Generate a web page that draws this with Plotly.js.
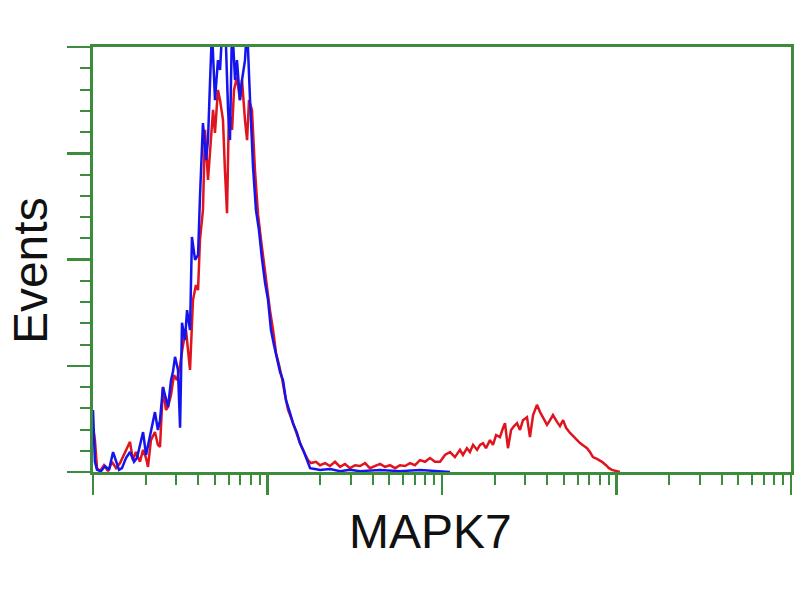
<!DOCTYPE html>
<html>
<head>
<meta charset="utf-8">
<script src="https://cdn.plot.ly/plotly-3.0.1.min.js"></script>
<style>html,body{margin:0;padding:0;background:#fff;}#chart{width:800px;height:600px;}</style>
</head>
<body>
<div id="chart"></div>
<script>
// log10 fluorescence intensity (decades) and event counts (relative, axis top = 100)
var controlLog = [0.000,0.011,0.023,0.046,0.069,0.092,0.115,0.132,0.149,0.166,0.189,0.212,0.235,0.252,0.269,0.287,0.304,0.321,0.338,0.355,0.372,0.384,0.401,0.418,0.430,0.447,0.458,0.470,0.487,0.499,0.510,0.527,0.539,0.556,0.567,0.585,0.602,0.613,0.630,0.648,0.659,0.671,0.682,0.699,0.716,0.728,0.739,0.756,0.774,0.785,0.797,0.814,0.825,0.842,0.854,0.871,0.883,0.900,0.917,0.934,0.951,0.969,0.986,1.003,1.020,1.037,1.054,1.072,1.089,1.106,1.129,1.146,1.169,1.186,1.209,1.226,1.244,1.272,1.301,1.358,1.416,1.473,1.530,1.645,1.759,1.874,1.989,2.046];
var controlCounts = [14.6,2.4,0.5,0.2,1.4,0.5,4.7,2.4,0.5,0.9,3.3,4.7,2.4,3.3,6.4,9.4,4.0,7.5,11.1,14.1,9.9,12.2,20.0,16.9,15.3,21.6,23.5,27.1,24.0,10.4,35.1,31.1,38.1,33.4,55.3,49.9,51.1,64.7,82.1,73.4,78.1,92.2,104,87.5,96.9,94.6,103,108,85.2,78.1,106,92.2,96.9,87.5,92.2,96.9,105,87.5,71.8,61.6,56.9,49.9,44.5,40.5,33.4,29.9,27.1,23.5,21.6,16.9,13.9,11.5,9.2,6.8,4.7,2.8,0.9,0.7,0.5,0.7,0.2,0.5,0.2,0.5,0.2,0.5,0.2,0];

var mapk7Log = [0.000,0.011,0.023,0.040,0.063,0.086,0.109,0.132,0.155,0.178,0.201,0.212,0.229,0.246,0.269,0.287,0.304,0.315,0.332,0.355,0.372,0.384,0.401,0.418,0.430,0.447,0.464,0.481,0.499,0.516,0.533,0.550,0.556,0.573,0.590,0.602,0.613,0.630,0.642,0.659,0.671,0.688,0.699,0.716,0.728,0.745,0.756,0.768,0.779,0.797,0.808,0.825,0.842,0.854,0.871,0.883,0.894,0.911,0.928,0.946,0.963,0.980,0.997,1.014,1.032,1.049,1.066,1.083,1.100,1.118,1.140,1.163,1.186,1.209,1.232,1.249,1.278,1.301,1.330,1.358,1.387,1.416,1.444,1.473,1.502,1.530,1.559,1.587,1.616,1.645,1.673,1.702,1.731,1.759,1.788,1.817,1.845,1.874,1.903,1.931,1.960,1.989,2.017,2.046,2.074,2.103,2.120,2.143,2.160,2.178,2.201,2.218,2.235,2.252,2.275,2.292,2.310,2.332,2.350,2.361,2.378,2.396,2.413,2.430,2.447,2.464,2.487,2.504,2.522,2.544,2.562,2.579,2.602,2.619,2.636,2.659,2.676,2.694,2.711,2.734,2.757,2.774,2.791,2.814,2.831,2.848,2.865,2.888,2.917,2.940,2.957,2.974,2.997,3.020];
var mapk7Counts = [10.6,7.5,0.9,0.2,1.6,0.2,2.4,0.9,2.1,4.0,5.9,7.1,2.8,4.7,2.4,5.2,3.3,1.2,7.5,9.4,6.4,5.9,20.0,14.6,15.3,18.1,22.8,21.6,25.2,29.9,33.4,26.4,24.0,40.5,44.0,42.8,54.6,61.6,80.5,68.7,75.8,85.2,79.8,89.9,87.5,82.8,71.1,60.9,85.2,80.5,89.9,92.9,87.5,92.2,82.8,78.1,87.5,85.2,71.1,60.5,54.6,48.7,42.8,38.1,33.4,28.0,25.2,22.1,18.1,14.6,12.2,9.4,6.8,4.7,2.8,2.1,2.4,1.6,2.1,1.4,2.4,1.2,1.9,0.9,1.6,1.4,2.1,0.9,1.4,1.9,1.2,1.6,0.9,1.6,1.4,2.1,1.6,2.8,2.4,3.3,2.4,2.4,4.0,4.7,3.5,5.2,4.0,5.6,4.7,6.4,5.2,6.4,6.8,5.6,7.5,6.4,8.7,8.2,10.4,11.5,5.6,9.9,10.8,11.5,9.9,12.2,12.9,8.2,13.4,15.8,14.1,12.9,11.1,12.2,13.4,11.8,10.8,12.2,10.4,9.2,8.2,7.5,6.8,6.1,5.6,4.7,3.5,3.1,2.4,1.6,0.9,0.5,0.2,0];

var majorDecades = [0,1,2,3,4];
var yMajor = [0,25,50,75,100];
var xLabel = 'MAPK7';
var yLabel = 'Events';

var minorX = [];
for (var d = 0; d < 4; d++) { for (var k = 2; k <= 9; k++) { minorX.push(d + Math.log10(k)); } }
var minorY = [];
for (var v = 5; v < 100; v += 5) { if (v % 25 !== 0) minorY.push(v); }

var green = '#3d8c3d';
var traces = [
  {x: mapk7Log, y: mapk7Counts, mode: 'lines', line: {color: '#e0141e', width: 2.5}, hoverinfo: 'skip'},
  {x: controlLog, y: controlCounts, mode: 'lines', line: {color: '#1414ee', width: 2.5}, hoverinfo: 'skip'}
];
var layout = {
  width: 800, height: 600,
  margin: {l: 93, r: 9, t: 47, b: 128},
  paper_bgcolor: '#fff', plot_bgcolor: '#fff',
  showlegend: false,
  font: {family: 'Liberation Sans, Arial, sans-serif', color: '#111'},
  xaxis: {
    range: [0, 4], showgrid: false, zeroline: false, showticklabels: false,
    showline: true, linecolor: green, linewidth: 3, mirror: true,
    tickmode: 'array', tickvals: majorDecades, ticks: 'outside', ticklen: 20, tickwidth: 2.5, tickcolor: green,
    minor: {tickmode: 'array', tickvals: minorX, ticks: 'outside', ticklen: 10, tickwidth: 2, tickcolor: green, showgrid: false}
  },
  yaxis: {
    range: [0, 100], showgrid: false, zeroline: false, showticklabels: false,
    showline: true, linecolor: green, linewidth: 3, mirror: true,
    tickmode: 'array', tickvals: yMajor, ticks: 'outside', ticklen: 23, tickwidth: 2.5, tickcolor: green,
    minor: {tickmode: 'array', tickvals: minorY, ticks: 'outside', ticklen: 10, tickwidth: 2, tickcolor: green, showgrid: false}
  },
  annotations: [
    {text: xLabel, xref: 'paper', yref: 'paper', x: 0.483, y: -0.141, xanchor: 'center', yanchor: 'middle', showarrow: false, font: {size: 48, color: '#111'}},
    {text: yLabel, xref: 'paper', yref: 'paper', x: -0.0903, y: 0.475, xanchor: 'center', yanchor: 'middle', textangle: -90, showarrow: false, font: {size: 48, color: '#111'}}
  ]
};
Plotly.newPlot('chart', traces, layout, {staticPlot: true});
</script>
</body>
</html>
